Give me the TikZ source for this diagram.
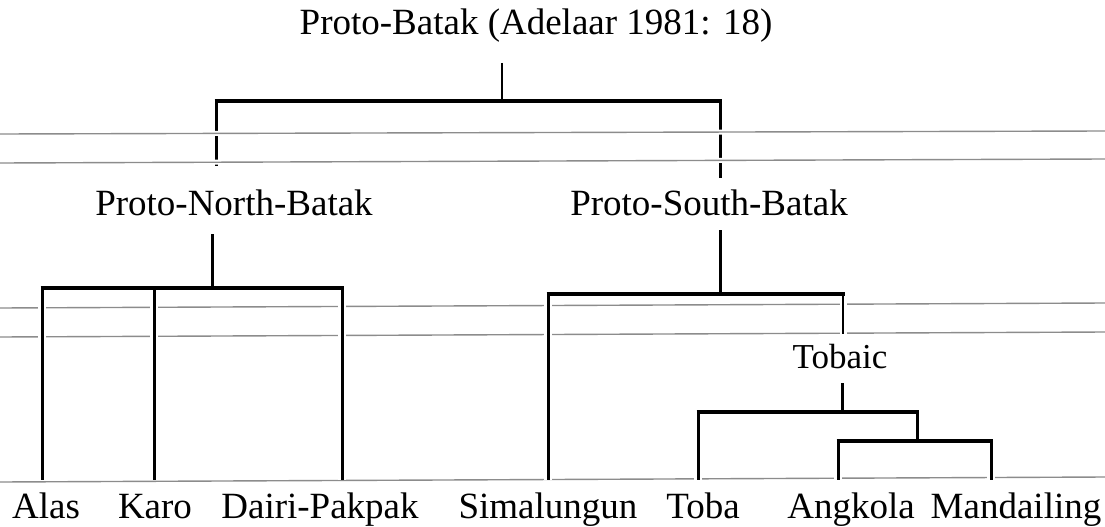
\documentclass[tikz,border=0pt]{standalone}
\usepackage{fontspec}
\setmainfont{Liberation Serif}
\begin{document}
\begin{tikzpicture}[x=1pt,y=-1pt,
  lbl/.style={font=\fontsize{37}{40}\selectfont, inner sep=0pt, anchor=base},
  stem/.style={line width=3pt, preaction={draw=white, line width=8pt, shorten <=5pt}},
  thinstem/.style={line width=2.2pt, preaction={draw=white, line width=7pt, shorten <=5pt}},
  bar/.style={line width=4pt},
  guide/.style={draw=black!45, line width=1.4pt},
  halo/.style={draw=white, line width=5pt}
]
\useasboundingbox (0,0) rectangle (1105,527);
\fill[white] (0,0) rectangle (1105,527);

% labels
\node[lbl] (pb)  at (536,35)  {Proto-Batak (Adelaar 1981: 18)};
\node[lbl] (pnb) at (234,215) {Proto-North-Batak};
\node[lbl] (psb) at (709,215) {Proto-South-Batak};
\node[lbl,font=\fontsize{35}{38}\selectfont] (tob) at (840,368) {Tobaic};
\node[lbl] (alas) at (46,518)   {Alas};
\node[lbl] (karo) at (155,518)  {Karo};
\node[lbl] (dairi) at (320,518) {Dairi-Pakpak};
\node[lbl] (sima) at (548,518)  {Simalungun};
\node[lbl] (toba) at (703,518)  {Toba};
\node[lbl] (angk) at (851,518)  {Angkola};
\node[lbl] (mand) at (1016,518) {Mandailing};

% junction coordinates
\coordinate (pbtop) at (502,63);
\coordinate (pbj) at (502,101);
\coordinate (pbl) at (216,101);
\coordinate (pbr) at (720,101);
\coordinate (pnbend) at (216,166);
\coordinate (psbend) at (720,178);

\coordinate (pnbtop) at (212,234);
\coordinate (pnbj) at (212,288);
\coordinate (nl) at (42,288);
\coordinate (nk) at (154,288);
\coordinate (nr) at (342,288);

\coordinate (psbtop) at (720,230);
\coordinate (psbj) at (720,294);
\coordinate (sl) at (548,294);
\coordinate (sr) at (843,294);
\coordinate (tobtop) at (843,334);

\coordinate (tobj) at (842,383);
\coordinate (tobb) at (842,412);
\coordinate (tl) at (698,412);
\coordinate (tr) at (917,412);
\coordinate (ak) at (917,441);
\coordinate (akl) at (838,441);
\coordinate (akr) at (991,441);

\coordinate (foot) at (0,480);

% lower guide lines (behind)
\draw[guide] (0,308) -- (1105,303);
\draw[guide] (0,337) -- (1105,332);
\draw[guide] (0,482) -- (1105,477);

% top level
\draw[thinstem] (pbtop) -- (pbj);
\draw[bar] ([xshift=-1.5pt]pbl) -- ([xshift=1.5pt]pbr);
\draw[stem] (pbl) -- (pnbend);
\draw[stem] (pbr) -- (psbend);

% guide lines crossing the top verticals
\draw[halo] (0,134) -- (1105,131);
\draw[guide] (0,134) -- (1105,131);
\draw[halo] (0,163) -- (1105,159);
\draw[guide] (0,163) -- (1105,159);

% north
\draw[stem] (pnbtop) -- (pnbj);
\draw[stem] (nl) -- (nl |- foot);
\draw[stem] (nk) -- (nk |- foot);
\draw[stem] (nr) -- (nr |- foot);
\draw[bar] ([xshift=-1.5pt]nl) -- ([xshift=1.5pt]nr);

% south
\draw[stem] (psbtop) -- (psbj);
\draw[stem] (sl) -- (sl |- foot);
\draw[thinstem] (sr) -- (tobtop);
\draw[bar] ([xshift=-1.5pt]sl) -- ([xshift=1.5pt]sr);

% tobaic
\draw[stem] (tobj) -- (tobb);
\draw[stem] (tl) -- (tl |- foot);
\draw[stem] (tr) -- (ak);
\draw[bar] ([xshift=-1.5pt]tl) -- ([xshift=1.5pt]tr);
\draw[stem] (akl) -- (akl |- foot);
\draw[stem] (akr) -- (akr |- foot);
\draw[bar] ([xshift=-1.5pt]akl) -- ([xshift=1.5pt]akr);
\end{tikzpicture}
\end{document}
